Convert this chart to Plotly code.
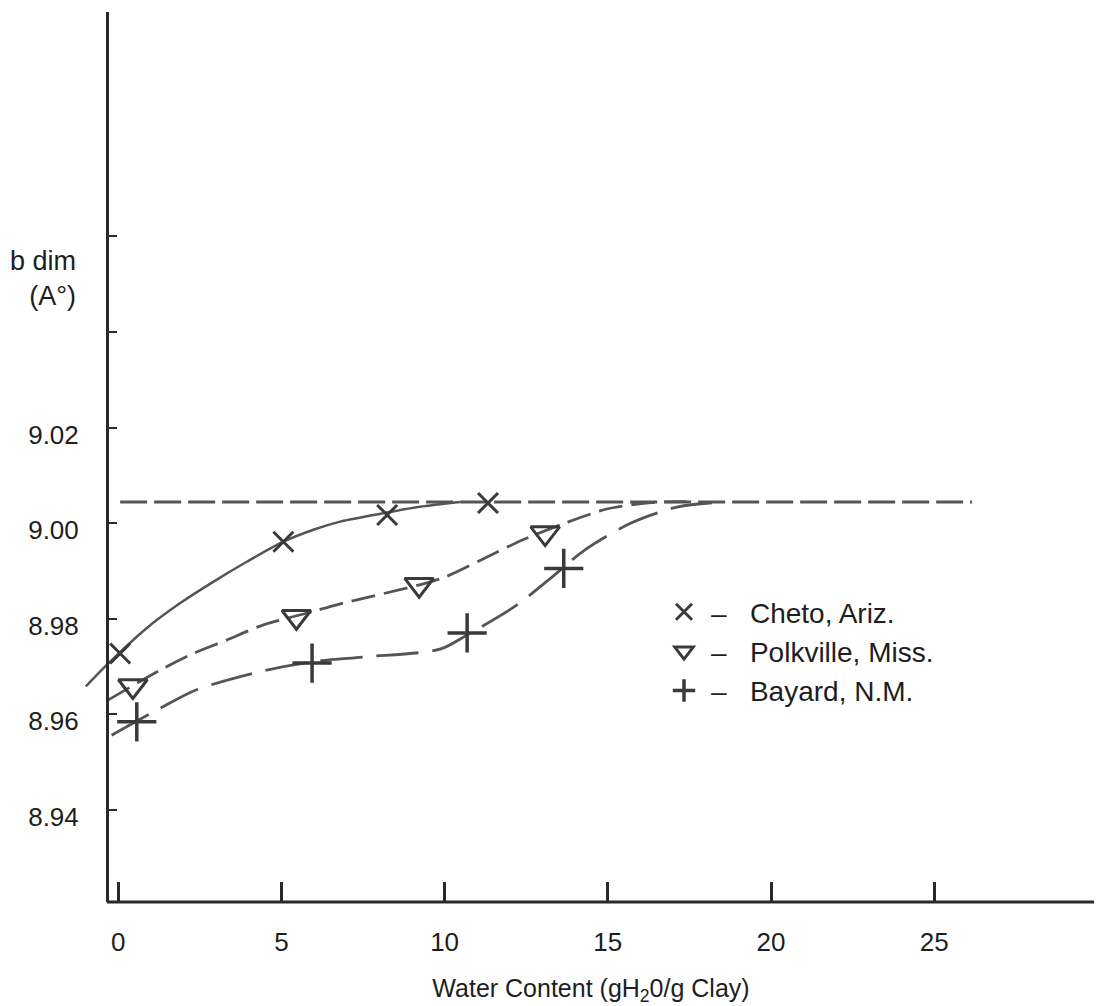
import plotly.graph_objects as go

# ---------------- data ----------------
x_ticks = [0, 5, 10, 15, 20, 25]
x_tick_labels = ["0", "5", "10", "15", "20", "25"]
y_ticks = [8.94, 8.96, 8.98, 9.00, 9.02, 9.04, 9.06]
y_tick_labels = ["8.94", "8.96", "8.98", "9.00", "9.02", "", ""]

# measured points
cheto_x = [0.06, 5.06, 8.24, 11.33]
cheto_y = [8.9727, 8.9961, 9.0017, 9.0042]
polk_x = [0.45, 5.46, 9.22, 13.08]
polk_y = [8.9659, 8.9804, 8.9871, 8.9979]
bayard_x = [0.57, 5.94, 10.69, 13.65]
bayard_y = [8.9584, 8.9707, 8.9770, 8.9905]

# hand-drawn fitted curves
cheto_curve_x = [-0.99, -0.35, 0.87, 1.89, 2.91, 3.94, 5.06, 5.98, 6.80, 8.24, 9.24, 10.47]
cheto_curve_y = [8.9658, 8.9703, 8.9780, 8.9832, 8.9877, 8.9919, 8.9961, 8.9986, 9.0003, 9.0022, 9.0034, 9.0044]
polk_curve_x = [-0.30, 1.28, 2.30, 3.32, 4.45, 5.98, 6.69, 9.19, 10.01, 11.24, 12.40, 13.69, 15.00, 16.32, 17.4]
polk_curve_y = [8.9630, 8.9692, 8.9727, 8.9755, 8.9787, 8.9815, 8.9829, 8.9870, 8.9887, 8.9927, 8.9965, 9.0000, 9.0030, 9.0043, 9.0045]
bayard_curve_x = [-0.20, 1.28, 2.40, 4.34, 5.98, 7.56, 9.86, 10.69, 12.16, 13.29, 14.30, 15.71, 17.15, 18.28]
bayard_curve_y = [8.9556, 8.9612, 8.9651, 8.9689, 8.9710, 8.9720, 8.9736, 8.9766, 8.9826, 8.9887, 8.9944, 9.0000, 9.0034, 9.0043]
limit_x = [0.06, 26.16]
limit_y = [9.0044, 9.0044]

legend_labels = ["\u2013\u00a0\u00a0\u00a0Cheto, Ariz.",
                 "\u2013\u00a0\u00a0\u00a0Polkville, Miss.",
                 "\u2013\u00a0\u00a0\u00a0Bayard, N.M."]

# ---------------- styling ----------------
LINE = "#555555"
MARK = "#3a3a3a"
AXIS = "#2a2a2a"
TEXT = "#1e1e1e"
FONT = "Liberation Sans, Arial, sans-serif"

# page body has an 8px margin; figure coordinates are reference pixels minus 8
OFF = 8
W, H = 1102 - OFF, 1006 - OFF
ML, MR, MT, MB = 80 - OFF, 0, 12 - OFF, (1006 - OFF) - (902 - OFF)
PW, PH = W - ML - MR, H - MT - MB
x_range = [-1.170, 30.14]
y_range = [8.92068, 9.10699]
yaxis_pos = (107 - 80) / PW


def px_x(px):
    return (px - 80) / PW


def px_y(py):
    return (902 - py) / PH


fig = go.Figure()

# curves
fig.add_trace(go.Scatter(x=limit_x, y=limit_y, mode="lines", showlegend=False,
                         line=dict(color=LINE, width=3, dash="27px,7px")))
fig.add_trace(go.Scatter(x=cheto_curve_x, y=cheto_curve_y, mode="lines", showlegend=False,
                         line=dict(color=LINE, width=2.5, shape="spline", smoothing=0.8)))
fig.add_trace(go.Scatter(x=polk_curve_x, y=polk_curve_y, mode="lines", showlegend=False,
                         line=dict(color=LINE, width=2.8, shape="spline", smoothing=0.8, dash="24px,9px")))
fig.add_trace(go.Scatter(x=bayard_curve_x, y=bayard_curve_y, mode="lines", showlegend=False,
                         line=dict(color=LINE, width=2.8, shape="spline", smoothing=0.8, dash="42px,14px")))

# markers (also legend entries)
fig.add_trace(go.Scatter(x=cheto_x, y=cheto_y, mode="markers", name=legend_labels[0],
                         marker=dict(symbol="x-thin", size=20, line=dict(color=MARK, width=3))))
fig.add_trace(go.Scatter(x=polk_x, y=polk_y, mode="markers", name=legend_labels[1],
                         marker=dict(symbol="triangle-down-open", size=25, color=MARK,
                                     line=dict(color=MARK, width=3))))
fig.add_trace(go.Scatter(x=bayard_x, y=bayard_y, mode="markers", name=legend_labels[2],
                         marker=dict(symbol="cross-thin", size=28, line=dict(color=MARK, width=3.5))))

# x axis line (starts at the free y-axis)
x_axis_start = x_range[0] + yaxis_pos * (x_range[1] - x_range[0])
fig.add_shape(type="line", xref="x", yref="y domain", x0=x_axis_start, x1=x_range[1], y0=0, y1=0,
              line=dict(color=AXIS, width=3), layer="above")

fig.add_annotation(text="b dim<br>(A\u00b0)", xref="paper", yref="paper",
                   x=px_x(78), y=px_y(278),
                   xanchor="right", yanchor="middle", align="right", showarrow=False,
                   font=dict(family=FONT, size=27, color=TEXT))

fig.update_layout(
    width=W, height=H,
    margin=dict(l=ML, r=MR, t=MT, b=MB),
    paper_bgcolor="white", plot_bgcolor="white",
    font=dict(family=FONT, color=TEXT),
    showlegend=True,
    legend=dict(x=px_x(657), y=px_y(587),
                xanchor="left", yanchor="top", bgcolor="rgba(0,0,0,0)",
                font=dict(family=FONT, size=28, color=TEXT), tracegroupgap=0,
                itemsizing="trace", itemwidth=44),
    xaxis=dict(range=x_range, tickmode="array", tickvals=x_ticks, ticktext=x_tick_labels,
               showgrid=False, zeroline=False, showline=False,
               ticks="inside", ticklen=20, tickwidth=2.5, tickcolor=AXIS,
               ticklabelstandoff=22,
               tickfont=dict(family=FONT, size=26, color=TEXT),
               title=dict(text="Water Content (gH<sub>2</sub>0/g Clay)", standoff=24,
                          font=dict(family=FONT, size=25, color=TEXT))),
    yaxis=dict(range=y_range, tickmode="array", tickvals=y_ticks, ticktext=y_tick_labels,
               anchor="free", position=yaxis_pos,
               showgrid=False, zeroline=False, showline=True, linecolor=AXIS, linewidth=3,
               ticks="inside", ticklen=8, tickwidth=2, tickcolor=AXIS,
               ticklabelstandoff=22, ticklabelshift=7,
               tickfont=dict(family=FONT, size=26, color=TEXT)),
)

fig.write_html("out.html")
